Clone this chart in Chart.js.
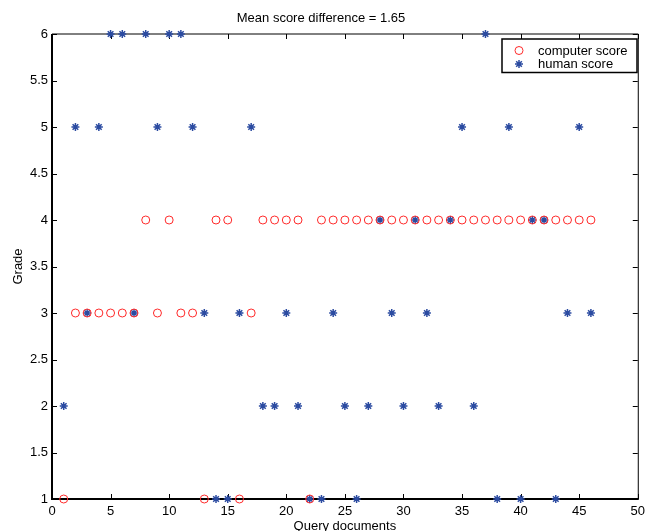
<!DOCTYPE html>
<html>
<head>
<meta charset="utf-8">
<script src="https://cdn.jsdelivr.net/npm/chart.js@4/dist/chart.umd.min.js"></script>
<style>
html,body{margin:0;padding:0;overflow:hidden;background:#fff;width:650px;height:531px}
canvas{display:block}
</style>
</head>
<body>
<canvas id="c" width="650" height="545"></canvas>
<script>
// ---- data ----
const documents = [1,2,3,4,5,6,7,8,9,10,11,12,13,14,15,16,17,18,19,20,21,22,23,24,25,26,27,28,29,30,31,32,33,34,35,36,37,38,39,40,41,42,43,44,45,46];
const computerScore = [1,3,3,3,3,3,3,4,3,4,3,3,1,4,4,1,3,4,4,4,4,1,4,4,4,4,4,4,4,4,4,4,4,4,4,4,4,4,4,4,4,4,4,4,4,4];
const humanScore    = [2,5,3,5,6,6,3,6,5,6,6,5,3,1,1,3,5,2,2,3,2,1,1,3,2,1,2,4,3,2,4,3,2,4,5,2,6,1,5,1,4,4,1,3,5,3];
const xTickValues = [0,5,10,15,20,25,30,35,40,45,50];
const yTickValues = [1,1.5,2,2.5,3,3.5,4,4.5,5,5.5,6];
const seriesLabels = ['computer score','human score'];
const titleText = 'Mean score difference = 1.65';
const xAxisTitle = 'Query documents';
const yAxisTitle = 'Grade';

const FONT = '"Liberation Sans", Arial, Helvetica, sans-serif';
const RED = '#ff2a2a';
const BLUE = '#2b4ba1';

const toPoints = (xs, ys) => xs.map((x, i) => ({x, y: ys[i]}));

function drawMarker(ctx, style, x, y, r, color) {
  ctx.save();
  ctx.strokeStyle = color;
  if (style === 'circle') {
    ctx.lineWidth = 1;
    ctx.beginPath(); ctx.arc(x, y, r, 0, Math.PI * 2); ctx.stroke();
  } else {
    ctx.lineWidth = 1.5;
    const d = r * Math.SQRT1_2;
    ctx.beginPath();
    ctx.moveTo(x - r, y); ctx.lineTo(x + r, y);
    ctx.moveTo(x, y - r); ctx.lineTo(x, y + r);
    ctx.moveTo(x - d, y - d); ctx.lineTo(x + d, y + d);
    ctx.moveTo(x - d, y + d); ctx.lineTo(x + d, y - d);
    ctx.stroke();
  }
  ctx.restore();
}

const framePlugin = {
  id: 'matlabFrame',
  beforeDatasetsDraw(chart) {
    const {ctx, chartArea: {left, right, top, bottom}, scales: {x, y}} = chart;
    ctx.save();
    ctx.strokeStyle = '#000';
    // thin top & right
    ctx.lineWidth = 1;
    ctx.beginPath();
    ctx.moveTo(left, top); ctx.lineTo(right + 0.5, top);
    ctx.moveTo(right + 0.5, top); ctx.lineTo(right + 0.5, bottom);
    ctx.stroke();
    // ticks (inward)
    const tl = 5;
    ctx.beginPath();
    xTickValues.forEach(v => {
      const px = Math.round(x.getPixelForValue(v)) + 0.5;
      ctx.moveTo(px, bottom); ctx.lineTo(px, bottom - tl);
      ctx.moveTo(px, top); ctx.lineTo(px, top + tl);
    });
    yTickValues.forEach(v => {
      const py = Math.round(y.getPixelForValue(v)) + 0.5;
      ctx.moveTo(left, py); ctx.lineTo(left + tl, py);
      ctx.moveTo(right, py); ctx.lineTo(right - tl, py);
    });
    ctx.stroke();
    // thick left & bottom
    ctx.lineWidth = 2;
    ctx.beginPath();
    ctx.moveTo(left, top); ctx.lineTo(left, bottom + 1);
    ctx.moveTo(left - 1, bottom); ctx.lineTo(right + 1, bottom);
    ctx.stroke();
    ctx.restore();
  }
};

const legendPlugin = {
  id: 'boxLegend',
  afterDraw(chart) {
    const {ctx} = chart;
    const bx = 502, by = 39, bw = 135, bh = 33.5;
    ctx.save();
    ctx.fillStyle = '#fff';
    ctx.fillRect(bx, by, bw, bh);
    ctx.strokeStyle = '#000';
    ctx.lineWidth = 1.5;
    ctx.strokeRect(bx, by, bw, bh);
    ctx.font = '13px ' + FONT;
    ctx.fillStyle = '#000';
    ctx.textBaseline = 'middle';
    ctx.textAlign = 'left';
    chart.data.datasets.forEach((ds, i) => {
      const yy = by + 11.5 + i * 13.5;
      drawMarker(ctx, ds.pointStyle, bx + 17, yy, 4, ds.borderColor);
      ctx.fillText(ds.label, bx + 36, yy + 0.5);
    });
    ctx.restore();
  }
};

new Chart(document.getElementById('c'), {
  type: 'scatter',
  data: {
    datasets: [
      {
        label: seriesLabels[0],
        data: toPoints(documents, computerScore),
        pointStyle: 'circle',
        pointRadius: 4,
        borderWidth: 1,
        borderColor: RED,
        backgroundColor: 'rgba(0,0,0,0)',
        clip: false
      },
      {
        label: seriesLabels[1],
        data: toPoints(documents, humanScore),
        pointStyle: 'star',
        pointRadius: 4,
        borderWidth: 1.5,
        borderColor: BLUE,
        backgroundColor: BLUE,
        clip: false
      }
    ]
  },
  options: {
    responsive: false,
    animation: false,
    events: [],
    layout: {padding: {left: 0, right: 8, top: 0, bottom: 0}},
    plugins: {
      legend: {display: false},
      tooltip: {enabled: false},
      title: {
        display: true,
        text: titleText,
        color: '#000',
        font: {family: FONT, size: 13, weight: 'normal', lineHeight: 1.2},
        padding: {top: 10.8, bottom: 7.6}
      }
    },
    scales: {
      x: {
        type: 'linear',
        min: 0, max: 50,
        afterBuildTicks: s => { s.ticks = xTickValues.map(v => ({value: v})); },
        afterFit: s => { s.height = 46; },
        grid: {display: false, drawTicks: false},
        border: {display: false},
        ticks: {
          color: '#000', padding: 5, maxRotation: 0, autoSkip: false,
          font: {family: FONT, size: 13},
          callback: v => String(v)
        },
        title: {
          display: true, text: xAxisTitle, color: '#000',
          font: {family: FONT, size: 13, lineHeight: 1.2},
          padding: {top: 0, bottom: 10.5}
        }
      },
      y: {
        type: 'linear',
        min: 1, max: 6,
        afterBuildTicks: s => { s.ticks = yTickValues.map(v => ({value: v})); },
        afterFit: s => { s.width = 52; },
        grid: {display: false, drawTicks: false},
        border: {display: false},
        ticks: {
          color: '#000', padding: 4, autoSkip: false,
          font: {family: FONT, size: 13},
          callback: v => String(v)
        },
        title: {
          display: true, text: yAxisTitle, color: '#000',
          font: {family: FONT, size: 13, lineHeight: 1.2},
          padding: {top: 10.8, bottom: 0}
        }
      }
    }
  },
  plugins: [framePlugin, legendPlugin]
});
</script>
</body>
</html>
